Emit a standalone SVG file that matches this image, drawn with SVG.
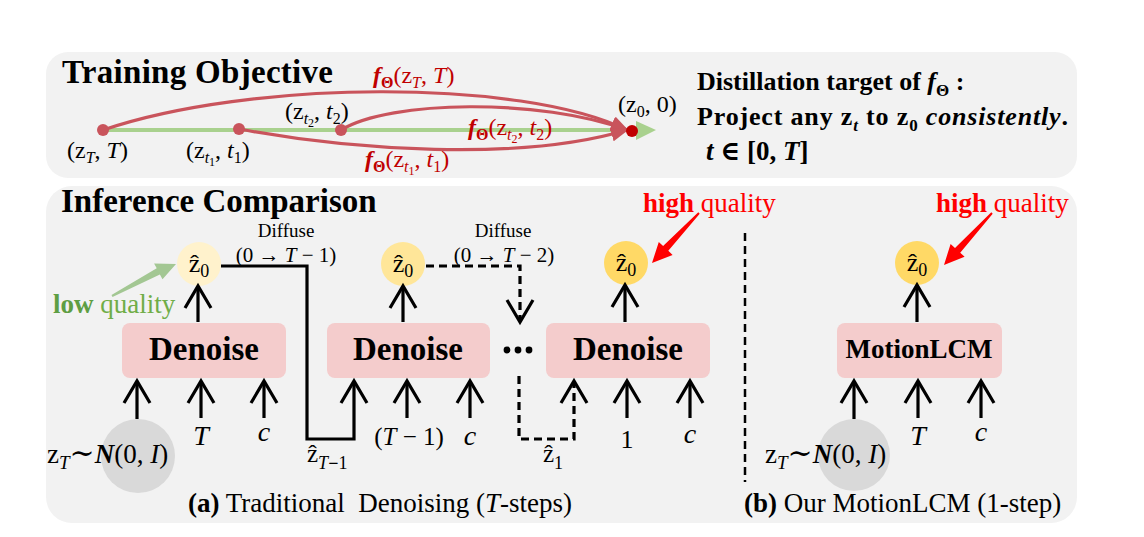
<svg xmlns="http://www.w3.org/2000/svg" width="1144" height="537" viewBox="0 0 1144 537">
<style>
text{font-family:"Liberation Serif","DejaVu Serif",serif;fill:#000}
.title{font-size:33px;font-weight:bold}
.box{fill:#f4cccc}
.btxt{font-size:33px;font-weight:bold;text-anchor:middle}
.m{font-size:24px}
.it{font-style:italic}
.b{font-weight:bold}
.red{fill:#c00000}
.hq{fill:#ff0000;font-size:27px}
.arr{stroke:#000;stroke-width:3.2;fill:none}
.dash{stroke-dasharray:8 5}
.curve{stroke:#c9545c;stroke-width:3.2;fill:none}
.panel{fill:#f2f2f2}
</style>
<defs>
<marker id="ah" viewBox="-26 -16 32 32" refX="0" refY="0" markerWidth="32" markerHeight="32" markerUnits="userSpaceOnUse" orient="auto">
<path d="M-22,-13 L0,0 L-22,13" fill="none" stroke="#000" stroke-width="3.2"/>
</marker>
<marker id="rh" viewBox="0 0 18 14" refX="16" refY="7" markerWidth="18" markerHeight="14" markerUnits="userSpaceOnUse" orient="auto">
<path d="M0,0 L18,7 L0,14 z" fill="#c9545c"/>
</marker>
</defs>

<rect class="panel" x="46" y="52" width="1031" height="126" rx="22"/>
<rect class="panel" x="46" y="186" width="1031" height="337" rx="26"/>

<g id="training">
<text class="title" x="62" y="83" textLength="271">Training Objective</text>
<line x1="103" y1="130" x2="638" y2="130" stroke="#a9d18e" stroke-width="4"/>
<polygon points="636,121 656,130 636,140" fill="#a9d18e"/>
<path class="curve" d="M103,130 C250,80 520,78 627,130" marker-end="url(#rh)"/>
<path class="curve" d="M341,130 C390,100 540,98 627,130" marker-end="url(#rh)"/>
<path class="curve" d="M239,129 C350,150 520,162 627,130" marker-end="url(#rh)"/>
<circle cx="103" cy="130" r="6" fill="#c9545c"/>
<circle cx="239" cy="129" r="6" fill="#c9545c"/>
<circle cx="341" cy="130" r="6" fill="#c9545c"/>
<circle cx="632" cy="131" r="6" fill="#c00000"/>
<text class="m" x="67" y="158">(z<tspan dy="5" font-size="16" class="it">T</tspan><tspan dy="-5">, </tspan><tspan class="it">T</tspan>)</text>
<text class="m" x="186" y="158">(z<tspan dy="5" font-size="16" class="it">t</tspan><tspan dy="3" font-size="12">1</tspan><tspan dy="-8">, </tspan><tspan class="it">t</tspan><tspan dy="5" font-size="16">1</tspan><tspan dy="-5">)</tspan></text>
<text class="m" x="285" y="119">(z<tspan dy="5" font-size="16" class="it">t</tspan><tspan dy="3" font-size="12">2</tspan><tspan dy="-8">, </tspan><tspan class="it">t</tspan><tspan dy="5" font-size="16">2</tspan><tspan dy="-5">)</tspan></text>
<text class="m" x="618" y="112">(z<tspan dy="5" font-size="16">0</tspan><tspan dy="-5">, 0)</tspan></text>
<text class="m red" x="373" y="83" font-size="25"><tspan class="it b">f</tspan><tspan dy="5" font-size="16" class="b">Θ</tspan><tspan dy="-5">(z</tspan><tspan dy="5" font-size="16" class="it">T</tspan><tspan dy="-5">, </tspan><tspan class="it">T</tspan>)</text>
<text class="m red" x="468" y="135" font-size="25"><tspan class="it b">f</tspan><tspan dy="5" font-size="16" class="b">Θ</tspan><tspan dy="-5">(z</tspan><tspan dy="5" font-size="16" class="it">t</tspan><tspan dy="3" font-size="12">2</tspan><tspan dy="-8">, </tspan><tspan class="it">t</tspan><tspan dy="5" font-size="16">2</tspan><tspan dy="-5">)</tspan></text>
<text class="m red" x="365" y="167" font-size="25"><tspan class="it b">f</tspan><tspan dy="5" font-size="16" class="b">Θ</tspan><tspan dy="-5">(z</tspan><tspan dy="5" font-size="16" class="it">t</tspan><tspan dy="3" font-size="12">1</tspan><tspan dy="-8">, </tspan><tspan class="it">t</tspan><tspan dy="5" font-size="16">1</tspan><tspan dy="-5">)</tspan></text>
</g>

<g id="distill-text">
<text x="697" y="90" font-size="26" font-weight="bold">Distillation target of <tspan class="it">f</tspan><tspan dy="6" font-size="17">Θ</tspan><tspan dy="-6"> :</tspan></text>
<text x="697" y="125" font-size="26" font-weight="bold" textLength="371">Project any z<tspan dy="6" font-size="17" class="it">t</tspan><tspan dy="-6"> to z</tspan><tspan dy="6" font-size="17">0</tspan><tspan dy="-6"> </tspan><tspan class="it">consistently</tspan>.</text>
<text x="706" y="160" font-size="27" font-weight="bold"><tspan class="it">t</tspan> ∈ [0, <tspan class="it">T</tspan>]</text>
</g>

<text class="title" x="61" y="212">Inference Comparison</text>

<g id="divider">
<line x1="745" y1="233" x2="745" y2="482" stroke="#000" stroke-width="2.5" stroke-dasharray="8 5"/>
</g>

<g id="noise1">
<circle cx="138" cy="456" r="37" fill="#d9d9d9"/>
<text x="47" y="463" font-size="27">z<tspan dy="6" font-size="19" class="it">T</tspan><tspan dy="-6" font-size="30">∼</tspan><tspan class="b it">N</tspan>(0, <tspan class="it">I</tspan>)</text>
</g>
<g id="noise2">
<circle cx="854" cy="455" r="36" fill="#d9d9d9"/>
<text x="765" y="463" font-size="27">z<tspan dy="6" font-size="19" class="it">T</tspan><tspan dy="-6" font-size="30">∼</tspan><tspan class="b it">N</tspan>(0, <tspan class="it">I</tspan>)</text>
</g>

<g id="denoise1">
<rect class="box" x="122" y="323" width="164" height="55" rx="8"/>
<text class="btxt" x="204" y="360">Denoise</text>
</g>
<g id="denoise2">
<rect class="box" x="327" y="323" width="163" height="55" rx="8"/>
<text class="btxt" x="408" y="360">Denoise</text>
</g>
<g id="denoise3">
<rect class="box" x="546" y="323" width="164" height="55" rx="8"/>
<text class="btxt" x="628" y="360">Denoise</text>
</g>
<g id="motionlcm">
<rect class="box" x="837" y="323" width="165" height="55" rx="8"/>
<text x="919" y="358" font-size="27" font-weight="bold" text-anchor="middle">MotionLCM</text>
</g>

<g id="z0-1">
<circle cx="199" cy="264" r="22" fill="#fff2cc"/>
<text x="199" y="272" font-size="26" text-anchor="middle">ẑ<tspan dy="5" font-size="18">0</tspan></text>
</g>
<g id="z0-2">
<circle cx="403" cy="264" r="22" fill="#ffe699"/>
<text x="403" y="272" font-size="26" text-anchor="middle">ẑ<tspan dy="5" font-size="18">0</tspan></text>
</g>
<g id="z0-3">
<circle cx="626" cy="263" r="22" fill="#ffd966"/>
<text x="626" y="271" font-size="26" text-anchor="middle">ẑ<tspan dy="5" font-size="18">0</tspan></text>
</g>
<g id="z0-4">
<circle cx="917" cy="263" r="22" fill="#ffd966"/>
<text x="917" y="271" font-size="26" text-anchor="middle">ẑ<tspan dy="5" font-size="18">0</tspan></text>
</g>

<g id="connectors">
<path class="arr" d="M198,322 V286" marker-end="url(#ah)"/>
<path class="arr" d="M403,322 V286" marker-end="url(#ah)"/>
<path class="arr" d="M625,322 V285" marker-end="url(#ah)"/>
<path class="arr" d="M917,322 V285" marker-end="url(#ah)"/>
<path class="arr" d="M137,419 V381" marker-end="url(#ah)"/>
<path class="arr" d="M201,418 V381" marker-end="url(#ah)"/>
<path class="arr" d="M264,418 V381" marker-end="url(#ah)"/>
<path class="arr" d="M407,418 V381" marker-end="url(#ah)"/>
<path class="arr" d="M470,418 V381" marker-end="url(#ah)"/>
<path class="arr" d="M627,418 V381" marker-end="url(#ah)"/>
<path class="arr" d="M690,418 V381" marker-end="url(#ah)"/>
<path class="arr" d="M854,419 V381" marker-end="url(#ah)"/>
<path class="arr" d="M918,418 V381" marker-end="url(#ah)"/>
<path class="arr" d="M981,418 V381" marker-end="url(#ah)"/>
<path class="arr" d="M221,266 H307 V439 H354 V381" marker-end="url(#ah)"/>
<path class="arr dash" d="M426,266 H520 V322" marker-end="url(#ah)"/>
<path class="arr dash" d="M519,376 V439 H574 V381" marker-end="url(#ah)"/>
<polygon points="111.5,295.1 156.7,268.3 154.1,263.5 176,264 162.5,279.3 159.9,274.5 112.5,296.9" fill="#a3c793"/>
<polygon points="698.3,212.3 663.1,246 658.8,241.9 652,263 672.6,254.9 668.3,250.8 699.7,213.7" fill="#ff0000"/>
<polygon points="991.3,212.3 955,247.9 950.6,243.9 944,265 964.6,256.7 960.2,252.7 992.7,213.7" fill="#ff0000"/>
</g>

<g id="labels">
<text x="286" y="237" font-size="19" text-anchor="middle">Diffuse</text>
<text x="286" y="262" font-size="21" text-anchor="middle">(0 → <tspan class="it">T</tspan> − 1)</text>
<text x="503" y="237" font-size="19" text-anchor="middle">Diffuse</text>
<text x="504" y="262" font-size="21" text-anchor="middle">(0 → <tspan class="it">T</tspan> − 2)</text>
<circle cx="507" cy="350" r="3.4"/>
<circle cx="518" cy="350" r="3.4"/>
<circle cx="529" cy="350" r="3.4"/>
<text x="201" y="445" font-size="28" class="it" text-anchor="middle">T</text>
<text x="264" y="441" font-size="28" class="it" text-anchor="middle">c</text>
<text x="409" y="445" font-size="25" text-anchor="middle">(<tspan class="it">T</tspan> − 1)</text>
<text x="470" y="445" font-size="28" class="it" text-anchor="middle">c</text>
<text x="627" y="448" font-size="26" text-anchor="middle">1</text>
<text x="690" y="443" font-size="28" class="it" text-anchor="middle">c</text>
<text x="918" y="445" font-size="28" class="it" text-anchor="middle">T</text>
<text x="981" y="441" font-size="28" class="it" text-anchor="middle">c</text>
<text x="307" y="462" font-size="25">ẑ<tspan dy="7" font-size="18" class="it">T</tspan><tspan font-size="18" font-weight="bold">−</tspan><tspan font-size="18">1</tspan></text>
<text x="543" y="462" font-size="25">ẑ<tspan dy="7" font-size="18">1</tspan></text>
<text x="53" y="313" font-size="27"><tspan font-weight="bold" fill="#5e9e43">low</tspan><tspan fill="#70ad47"> quality</tspan></text>
<text x="643" y="212" class="hq"><tspan font-weight="bold">high</tspan> quality</text>
<text x="936" y="212" class="hq"><tspan font-weight="bold">high</tspan> quality</text>
<text x="188" y="512" font-size="27" xml:space="preserve"><tspan font-weight="bold">(a)</tspan> Traditional  Denoising (<tspan class="it">T</tspan>-steps)</text>
<text x="744" y="512" font-size="27"><tspan font-weight="bold">(b)</tspan> Our MotionLCM (1-step)</text>
</g>
</svg>
